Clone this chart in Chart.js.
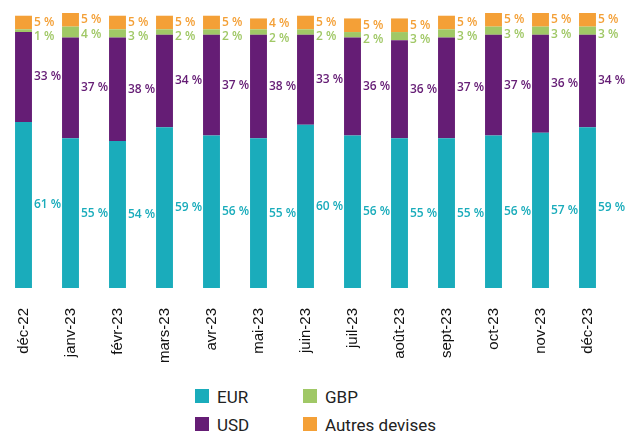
<!DOCTYPE html>
<html>
<head>
<meta charset="utf-8">
<script src="https://cdn.jsdelivr.net/npm/chart.js@4"></script>
<style>
  body { margin: 0; background: #fff; }
  #wrap { position: relative; width: 637px; height: 436px; }
  #box { position: absolute; left: 0; top: 0; width: 637px; height: 380px; }
  #legend { position: absolute; left: 0; top: 0; font-family: Roboto, sans-serif; font-size: 17px; color: #222; }
  .item { position: absolute; white-space: nowrap; line-height: 17px; }
  .sw { position: absolute; width: 14px; height: 14px; left: 0; top: 1px; }
  .item span { position: absolute; left: 22px; top: 1px; }
</style>
</head>
<body>
<div id="wrap">
  <div id="box"><canvas id="chart"></canvas></div>
  <div id="legend"></div>
</div>
<script>
// DATA
const months = ["déc-22", "janv-23", "févr-23", "mars-23", "avr-23", "mai-23", "juin-23",
  "juil-23", "août-23", "sept-23", "oct-23", "nov-23", "déc-23"];
const eur = [61, 55, 54, 59, 56, 55, 60, 56, 55, 55, 56, 57, 59];
const usd = [33, 37, 38, 34, 37, 38, 33, 36, 36, 37, 37, 36, 34];
const gbp = [1, 4, 3, 2, 2, 2, 2, 2, 3, 3, 3, 3, 3];
const autres = [5, 5, 5, 5, 5, 4, 5, 5, 5, 5, 5, 5, 5];

const colors = {
  eur: "#1aacbb",
  usd: "#651d75",
  gbp: "#a0c866",
  autres: "#f4a037"
};

// labels to the right of each segment
const segLabels = {
  id: "segLabels",
  afterDatasetsDraw(chart) {
    const c = chart.ctx;
    c.save();
    c.font = "600 12px 'Open Sans', sans-serif";
    c.textBaseline = "middle";
    c.textAlign = "left";
    const topMeta = chart.getDatasetMeta(3);
    chart.data.datasets.forEach((ds, i) => {
      const meta = chart.getDatasetMeta(i);
      meta.data.forEach((bar, j) => {
        let y = (bar.y + bar.base) / 2;
        if (i === 2) {
          const t = topMeta.data[j];
          const ty = (t.y + t.base) / 2;
          y = Math.max(y, ty + 14.5);
        }
        c.fillStyle = ds.backgroundColor;
        c.fillText(ds.data[j] + " %", bar.x + bar.width / 2 + 2, y);
      });
    });
    c.restore();
  }
};

const chart = new Chart(document.getElementById("chart"), {
  type: "bar",
  data: {
    labels: months,
    datasets: [
      { label: "EUR", data: eur, backgroundColor: colors.eur },
      { label: "USD", data: usd, backgroundColor: colors.usd },
      { label: "GBP", data: gbp, backgroundColor: colors.gbp },
      { label: "Autres devises", data: autres, backgroundColor: colors.autres }
    ]
  },
  options: {
    responsive: true,
    maintainAspectRatio: false,
    animation: false,
    layout: { padding: { left: 0, right: 26, top: 13, bottom: 0 } },
    datasets: { bar: { categoryPercentage: 1, barPercentage: 0.36 } },
    plugins: { legend: { display: false }, tooltip: { enabled: false } },
    scales: {
      x: {
        stacked: true,
        grid: { display: false },
        border: { display: false },
        ticks: {
          autoSkip: false,
          maxRotation: 90,
          minRotation: 90,
          padding: 12,
          color: "#111",
          font: { family: "'Liberation Sans', Arial, sans-serif", size: 15 }
        },
        afterFit(scale) { scale.height = 92; }
      },
      y: {
        stacked: true,
        display: false,
        min: 0,
        max: 101
      }
    }
  },
  plugins: [segLabels]
});

// LEGEND (two columns: EUR / USD, GBP / Autres devises)
const legendPos = [[195, 388], [195, 416], [303, 388], [303, 416]];
const legend = document.getElementById("legend");
chart.data.datasets.forEach((ds, i) => {
  const el = document.createElement("div");
  el.className = "item";
  el.style.left = legendPos[i][0] + "px";
  el.style.top = legendPos[i][1] + "px";
  el.innerHTML = '<div class="sw" style="background:' + ds.backgroundColor + '"></div><span>' + ds.label + "</span>";
  legend.appendChild(el);
});
</script>
</body>
</html>
